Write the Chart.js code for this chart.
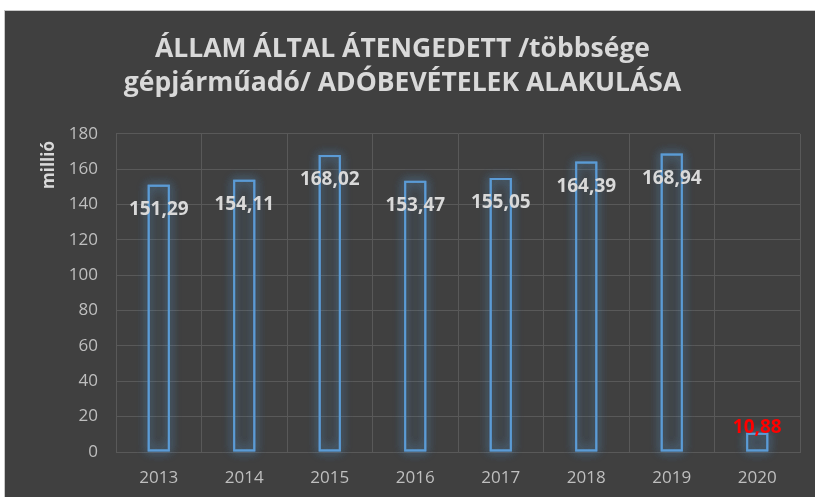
<!DOCTYPE html>
<html>
<head>
<meta charset="utf-8">
<script src="https://cdn.jsdelivr.net/npm/chart.js@4.4.1/dist/chart.umd.min.js"></script>
<style>
    html, body { margin: 0; padding: 0; background: #ffffff; }
    #wrap {
        position: absolute; left: 4px; top: 10px; width: 811px; height: 487px;
        background: #404040; border-top: 1px solid #c8c8c8; border-left: 1px solid #c8c8c8;
    }
    canvas { display: block; }
</style>
</head>
<body>
<div id="wrap"><canvas id="taxChart" width="810" height="486"></canvas></div>
<script>
    // values
    const years = ['2013', '2014', '2015', '2016', '2017', '2018', '2019', '2020'];
    const revenue = [151.29, 154.11, 168.02, 153.47, 155.05, 164.39, 168.94, 10.88];
    const yTicks = [0, 20, 40, 60, 80, 100, 120, 140, 160, 180];
    const highlightIndex = 7; // last year label is red

    const FONT = "'Open Sans', sans-serif";

    // soft blue glow around bar outlines (bar element clips its own shadow, so draw it here)
    const glowPlugin = {
        id: 'glow',
        beforeDatasetDraw(chart) {
            const ctx = chart.ctx;
            const meta = chart.getDatasetMeta(0);
            ctx.save();
            ctx.shadowColor = 'rgba(91, 155, 213, 1)';
            ctx.shadowBlur = 11;
            ctx.strokeStyle = 'rgba(91, 155, 213, 0.45)';
            ctx.lineWidth = 2;
            meta.data.forEach(function (bar) {
                const p = bar.getProps(['x', 'y', 'base', 'width'], true);
                const left = p.x - p.width / 2;
                for (let k = 0; k < 3; k++) {
                    ctx.strokeRect(left + 1, p.y + 1, p.width - 2, p.base - p.y - 2);
                }
            });
            ctx.restore();
        }
    };

    // value labels (inside end), plus y axis title near the top
    const labelPlugin = {
        id: 'valueLabels',
        afterDatasetsDraw(chart) {
            const ctx = chart.ctx;
            const meta = chart.getDatasetMeta(0);
            ctx.save();
            ctx.textAlign = 'center';
            ctx.textBaseline = 'middle';
            ctx.font = 'bold 19px ' + FONT;
            meta.data.forEach(function (bar, i) {
                const txt = revenue[i].toFixed(2).replace('.', ',');
                if (i === highlightIndex) {
                    ctx.fillStyle = '#ff0000';
                    ctx.fillText(txt, bar.x, bar.y - 5);
                } else {
                    ctx.fillStyle = '#d9d9d9';
                    ctx.fillText(txt, bar.x, bar.y + 25);
                }
            });
            // axis title
            ctx.translate(44, 154);
            ctx.rotate(-Math.PI / 2);
            ctx.font = 'bold 17px ' + FONT;
            ctx.fillStyle = '#d9d9d9';
            ctx.fillText('millió', 0, 0);
            ctx.restore();
        }
    };

    const ctx = document.getElementById('taxChart').getContext('2d');
    const taxChart = new Chart(ctx, {
        type: 'bar',
        data: {
            labels: years,
            datasets: [{
                data: revenue,
                backgroundColor: 'rgba(64, 64, 64, 0)',
                borderColor: '#5b9bd5',
                borderWidth: 2,
                borderSkipped: false,
                categoryPercentage: 1,
                barPercentage: 0.26
            }]
        },
        options: {
            responsive: false,
            animation: false,
            layout: { padding: { left: 0, right: 15, top: 0, bottom: 0 } },
            plugins: {
                legend: { display: false },
                tooltip: { enabled: false },
                title: {
                    display: true,
                    text: ['ÁLLAM ÁLTAL ÁTENGEDETT /többsége', 'gépjárműadó/ ADÓBEVÉTELEK ALAKULÁSA'],
                    color: '#d9d9d9',
                    font: { family: FONT, size: 26.5, weight: 'bold', lineHeight: 1.3 },
                    padding: { top: 21, bottom: 33 }
                }
            },
            scales: {
                x: {
                    grid: { color: '#595959', lineWidth: 1, drawTicks: false, offset: true },
                    border: { color: '#595959' },
                    ticks: { color: '#bfbfbf', font: { family: FONT, size: 17 }, padding: 16 },
                    afterFit(scale) { scale.height = 45; }
                },
                y: {
                    min: 0,
                    max: 180,
                    afterBuildTicks(scale) { scale.ticks = yTicks.map(v => ({ value: v })); },
                    grid: { color: '#595959', lineWidth: 1, drawTicks: false },
                    border: { color: '#595959' },
                    ticks: { color: '#bfbfbf', font: { family: FONT, size: 17 }, padding: 18 },
                    afterFit(scale) { scale.width = 111; }
                }
            }
        },
        plugins: [glowPlugin, labelPlugin]
    });
</script>
</body>
</html>
